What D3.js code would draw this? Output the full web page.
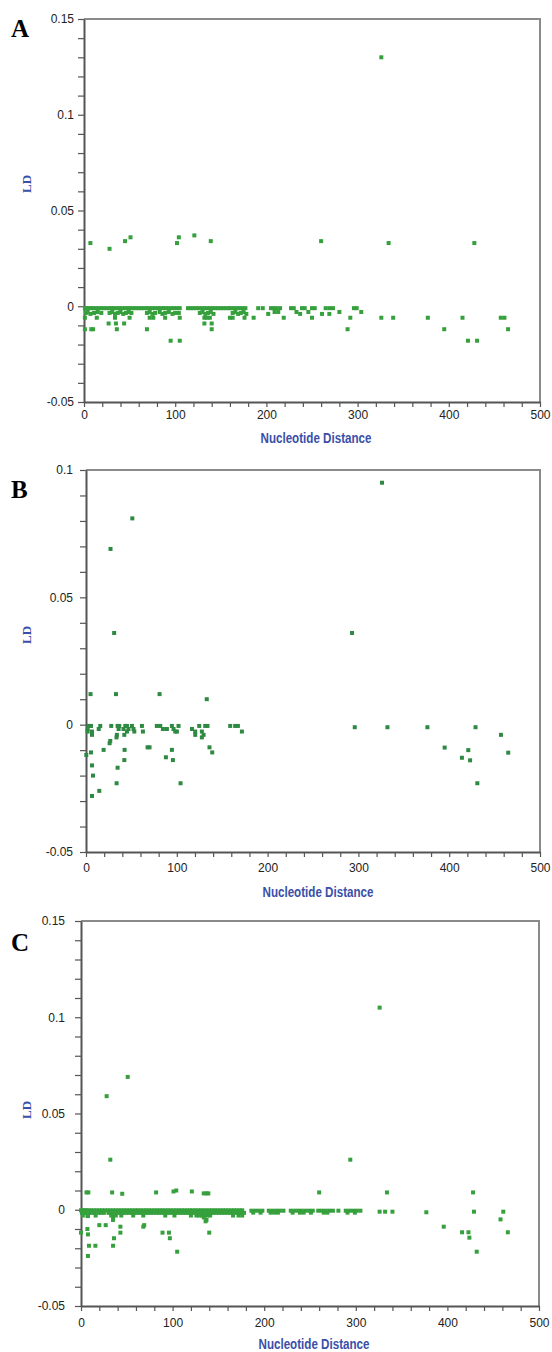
<!DOCTYPE html>
<html>
<head>
<meta charset="utf-8">
<script src="https://cdn.jsdelivr.net/npm/d3@7/dist/d3.min.js"></script>
<style>
  html, body { margin: 0; padding: 0; background: #fff; }
  svg { display: block; }
</style>
</head>
<body>
<svg id="chart" width="552" height="1352"></svg>
<script>
// ---------------- DATA ----------------
const panelLabels = ["A", "B", "C"];
const xTickValues = [0, 100, 200, 300, 400, 500];
const xTickLabels = ["0", "100", "200", "300", "400", "500"];
const yTicksA = [-0.05, 0, 0.05, 0.1, 0.15];
const yTickLabelsA = ["-0.05", "0", "0.05", "0.1", "0.15"];
const yTicksB = [-0.05, 0, 0.05, 0.1];
const yTickLabelsB = ["-0.05", "0", "0.05", "0.1"];
const yTicksC = [-0.05, 0, 0.05, 0.1, 0.15];
const yTickLabelsC = ["-0.05", "0", "0.05", "0.1", "0.15"];
const xAxisTitle = "Nucleotide Distance";
const yAxisTitle = "LD";

// Panel A: [nucleotide distance, LD]
const pointsA_high = [[7,0.033],[28,0.030],[45,0.034],[51,0.036],[102,0.033],[104,0.036],[121,0.037],[139,0.034],[260,0.034],[326,0.130],[334,0.033],[428,0.033]];
const pointsA_band0 = [[1,-0.001],[3,-0.001],[5,-0.001],[8,-0.001],[10,-0.001],[13,-0.001],[16,-0.001],[19,-0.001],[22,-0.001],[25,-0.001],[28,-0.001],[31,-0.001],[33,-0.001],[36,-0.001],[39,-0.001],[42,-0.001],[45,-0.001],[48,-0.001],[51,-0.001],[54,-0.001],[57,-0.001],[60,-0.001],[63,-0.001],[66,-0.001],[69,-0.001],[72,-0.001],[75,-0.001],[78,-0.001],[81,-0.001],[84,-0.001],[87,-0.001],[90,-0.001],[93,-0.001],[96,-0.001],[99,-0.001],[102,-0.001],[105,-0.001],[114,-0.001],[117,-0.001],[120,-0.001],[123,-0.001],[126,-0.001],[129,-0.001],[132,-0.001],[135,-0.001],[138,-0.001],[141,-0.001],[144,-0.001],[147,-0.001],[150,-0.001],[153,-0.001],[156,-0.001],[159,-0.001],[162,-0.001],[165,-0.001],[168,-0.001],[171,-0.001],[174,-0.001],[177,-0.001],[191,-0.001],[196,-0.001],[205,-0.001],[208,-0.001],[211,-0.001],[215,-0.001],[227,-0.001],[230,-0.001],[239,-0.001],[242,-0.001],[250,-0.001],[253,-0.001],[265,-0.001],[269,-0.001],[273,-0.001],[296,-0.001],[299,-0.001]];
const pointsA_band1 = [[2,-0.0035],[4,-0.003],[7,-0.004],[11,-0.0035],[15,-0.003],[19,-0.0035],[28,-0.0035],[31,-0.003],[34,-0.004],[37,-0.0035],[40,-0.003],[43,-0.004],[46,-0.0035],[49,-0.003],[52,-0.0035],[69,-0.0035],[72,-0.003],[75,-0.004],[78,-0.0035],[83,-0.003],[86,-0.004],[89,-0.0035],[93,-0.003],[97,-0.004],[100,-0.0035],[104,-0.0035],[127,-0.0035],[130,-0.003],[133,-0.004],[136,-0.0035],[139,-0.003],[142,-0.004],[163,-0.0035],[166,-0.003],[169,-0.004],[172,-0.0035],[175,-0.003],[178,-0.004],[202,-0.004],[209,-0.003],[213,-0.003],[233,-0.003],[237,-0.004],[246,-0.003],[261,-0.004],[269,-0.004],[280,-0.003],[304,-0.003]];
const pointsA_low = [[1,-0.006],[14,-0.006],[34,-0.006],[50,-0.006],[72,-0.006],[76,-0.006],[89,-0.006],[105,-0.006],[132,-0.006],[135,-0.006],[138,-0.006],[160,-0.006],[163,-0.006],[176,-0.006],[186,-0.006],[219,-0.006],[250,-0.006],[292,-0.006],[326,-0.006],[339,-0.006],[377,-0.006],[415,-0.006],[457,-0.006],[461,-0.006],[27,-0.009],[35,-0.009],[44,-0.009],[132,-0.009],[140,-0.009],[1,-0.012],[8,-0.012],[10,-0.012],[36,-0.012],[69,-0.012],[140,-0.012],[289,-0.012],[395,-0.012],[465,-0.012],[95,-0.018],[105,-0.018],[421,-0.018],[431,-0.018]];

// Panel B
const pointsB_high = [[51,0.081],[27,0.069],[31,0.036],[5,0.012],[33,0.012],[81,0.012],[133,0.010],[326,0.095],[293,0.036]];
const pointsB_band = [[3,-0.0005],[5.5,-0.0005],[15.7,-0.0005],[27.8,-0.0005],[34.8,-0.0005],[36.6,-0.0005],[43.3,-0.0005],[45.1,-0.0005],[50.6,-0.0005],[61.6,-0.0005],[78,-0.0005],[81.8,-0.0005],[94.6,-0.0005],[101.9,-0.0005],[124.7,-0.0005],[131.3,-0.0005],[133.8,-0.0005],[158.8,-0.0005],[164.3,-0.0005],[167.3,-0.0005],[1.8,-0.0017],[14,-0.0017],[35.9,-0.0017],[41.3,-0.0017],[46.8,-0.0017],[52.3,-0.0017],[84.7,-0.0017],[89.1,-0.0017],[96.4,-0.0017],[116.7,-0.0017],[1.8,-0.0027],[6.6,-0.0027],[45.1,-0.0027],[53.2,-0.0027],[62.7,-0.0027],[98.3,-0.0027],[100.1,-0.0027],[120.3,-0.0027],[127.6,-0.0027],[171.7,-0.0027],[6.6,-0.004],[34,-0.004],[42.2,-0.004],[120.3,-0.004],[129.5,-0.004],[33.6,-0.005],[127.6,-0.005]];
const pointsB_low = [[26.7,-0.0064],[26,-0.0073],[67.8,-0.0089],[70,-0.0089],[136,-0.0089],[19.4,-0.0099],[42.5,-0.0099],[94.6,-0.0099],[5.5,-0.0109],[139,-0.0109],[0.3,-0.0119],[88,-0.0128],[42.2,-0.0139],[95.7,-0.0139],[6.6,-0.016],[34.8,-0.0169],[7.7,-0.02],[33.7,-0.023],[104.1,-0.023],[14.6,-0.026],[6.6,-0.028],[296,-0.001],[332,-0.001],[376,-0.001],[429,-0.001],[457,-0.004],[395,-0.009],[421,-0.010],[414,-0.013],[423,-0.014],[465,-0.011],[431,-0.023]];

// Panel C
const pointsC_high = [[51,0.069],[28,0.059],[32,0.026],[326,0.105],[294,0.026],[6,0.009],[8,0.009],[34,0.009],[45,0.0083],[82,0.009],[101,0.0095],[104,0.010],[121,0.0095],[134,0.0085],[137,0.0085],[139,0.0085],[260,0.009],[334,0.009],[428,0.009]];
const pointsC_band0 = [[0,-0.0003],[2,-0.0003],[4,-0.0003],[6,-0.0003],[8,-0.0003],[11,-0.0003],[14,-0.0003],[17,-0.0003],[20,-0.0003],[23,-0.0003],[26,-0.0003],[29,-0.0003],[32,-0.0003],[35,-0.0003],[38,-0.0003],[41,-0.0003],[44,-0.0003],[47,-0.0003],[50,-0.0003],[53,-0.0003],[56,-0.0003],[59,-0.0003],[62,-0.0003],[65,-0.0003],[68,-0.0003],[71,-0.0003],[74,-0.0003],[77,-0.0003],[80,-0.0003],[83,-0.0003],[86,-0.0003],[89,-0.0003],[92,-0.0003],[95,-0.0003],[98,-0.0003],[101,-0.0003],[104,-0.0003],[107,-0.0003],[110,-0.0003],[113,-0.0003],[116,-0.0003],[119,-0.0003],[122,-0.0003],[125,-0.0003],[128,-0.0003],[131,-0.0003],[134,-0.0003],[137,-0.0003],[140,-0.0003],[143,-0.0003],[146,-0.0003],[149,-0.0003],[152,-0.0003],[155,-0.0003],[158,-0.0003],[161,-0.0003],[164,-0.0003],[167,-0.0003],[170,-0.0003],[173,-0.0003],[176,-0.0003],[186,-0.0005],[190,-0.0005],[194,-0.0005],[198,-0.0005],[205,-0.0005],[209,-0.0005],[213,-0.0005],[217,-0.0005],[221,-0.0005],[229,-0.0005],[233,-0.0005],[237,-0.0005],[241,-0.0005],[245,-0.0005],[249,-0.0005],[253,-0.0005],[259,-0.0005],[263,-0.0005],[267,-0.0005],[271,-0.0005],[275,-0.0005],[281,-0.0005],[289,-0.0005],[293,-0.0005],[297,-0.0005],[301,-0.0005],[305,-0.0005]];
const pointsC_band1 = [[1,-0.0016],[3,-0.0016],[5,-0.0016],[9,-0.0016],[12,-0.0016],[15,-0.0016],[19,-0.0016],[22,-0.0016],[25,-0.0016],[30,-0.0016],[33,-0.0016],[37,-0.0016],[40,-0.0016],[43,-0.0016],[46,-0.0016],[49,-0.0016],[52,-0.0016],[55,-0.0016],[58,-0.0016],[61,-0.0016],[64,-0.0016],[67,-0.0016],[70,-0.0016],[73,-0.0016],[76,-0.0016],[79,-0.0016],[82,-0.0016],[85,-0.0016],[88,-0.0016],[91,-0.0016],[94,-0.0016],[97,-0.0016],[100,-0.0016],[103,-0.0016],[106,-0.0016],[109,-0.0016],[112,-0.0016],[115,-0.0016],[118,-0.0016],[121,-0.0016],[124,-0.0016],[127,-0.0016],[130,-0.0016],[133,-0.0016],[136,-0.0016],[139,-0.0016],[142,-0.0016],[145,-0.0016],[148,-0.0016],[151,-0.0016],[154,-0.0016],[157,-0.0016],[160,-0.0016],[163,-0.0016],[166,-0.0016],[169,-0.0016],[172,-0.0016],[175,-0.0016],[178,-0.0016],[188,-0.0015],[196,-0.0015],[207,-0.0015],[211,-0.0015],[215,-0.0015],[231,-0.0015],[239,-0.0015],[243,-0.0015],[251,-0.0015],[265,-0.0015],[269,-0.0015],[291,-0.0015],[299,-0.0015],[2,-0.003],[7,-0.003],[16,-0.003],[33,-0.003],[38,-0.003],[44,-0.003],[57,-0.003],[68,-0.003],[92,-0.003],[102,-0.003],[120,-0.003],[126,-0.003],[129,-0.003],[132,-0.003],[135,-0.003],[138,-0.003],[141,-0.003],[166,-0.003],[172,-0.003],[176,-0.003]];
const pointsC_low = [[7.6,-0.0033],[35,-0.0033],[134,-0.004],[35,-0.0053],[137,-0.0053],[136,-0.006],[20,-0.008],[27,-0.008],[69,-0.008],[68,-0.0088],[43,-0.0088],[7,-0.010],[0,-0.0119],[89,-0.0119],[96,-0.0119],[140,-0.0119],[43,-0.0119],[7.6,-0.0128],[36,-0.0148],[97,-0.0148],[8.7,-0.0187],[15.7,-0.0187],[35,-0.0187],[105,-0.0218],[7.6,-0.024],[326,-0.001],[332,-0.001],[340,-0.001],[377,-0.0013],[429,-0.001],[461,-0.001],[396,-0.0088],[416,-0.0117],[423,-0.0117],[424,-0.0145],[432,-0.0218],[458,-0.005],[466,-0.0117]];

// ---------------- LAYOUT ----------------
const panels = [
  { letter: panelLabels[0], left: 84, right: 540, top: 19, bottom: 402, yMax: 0.15,
    yTicks: yTicksA, yLabels: yTickLabelsA, yPad: 4, xLabelY: 17, titleY: 443, titleX: 316,
    ldX: 26, ldY: 184, letterY: 37, color: "#36a03d",
    points: [pointsA_high, pointsA_band0, pointsA_band1, pointsA_low] },
  { letter: panelLabels[1], left: 86, right: 540, top: 470, bottom: 852, yMax: 0.1,
    yTicks: yTicksB, yLabels: yTickLabelsB, yPad: 7, xLabelY: 19.5, titleY: 897, titleX: 318,
    ldX: 26, ldY: 635, letterY: 498, color: "#2e8a42",
    points: [pointsB_high, pointsB_band, pointsB_low] },
  { letter: panelLabels[2], left: 81, right: 539, top: 921, bottom: 1306, yMax: 0.15,
    yTicks: yTicksC, yLabels: yTickLabelsC, yPad: 10, xLabelY: 20.5, titleY: 1348.5, titleX: 314,
    ldX: 26, ldY: 1110, letterY: 951, color: "#36a03d",
    points: [pointsC_high, pointsC_band0, pointsC_band1, pointsC_low] }
];

const svg = d3.select("#chart");
const tickFont = "'Liberation Sans', Arial, sans-serif";

panels.forEach(p => {
  const x = d3.scaleLinear().domain([0, 500]).range([p.left, p.right]);
  const y = d3.scaleLinear().domain([-0.05, p.yMax]).range([p.bottom, p.top]);
  const g = svg.append("g");

  // panel letter
  g.append("text").attr("x", 11).attr("y", p.letterY)
    .attr("font-family", "'Liberation Serif', 'Times New Roman', serif")
    .attr("font-weight", "bold").attr("font-size", 25).attr("fill", "#000")
    .text(p.letter);

  // frame (top/right)
  g.append("path")
    .attr("d", `M${p.left},${p.top}H${p.right}V${p.bottom}`)
    .attr("fill", "none").attr("stroke", "#8a8a8a").attr("stroke-width", 2);

  // y axis with minor ticks every 0.01
  const nTop = Math.round(p.yMax * 100);
  const yMinor = d3.range(-5, nTop + 1).map(i => i / 100);
  const yAx = g.append("g").attr("transform", `translate(${p.left},0)`)
    .call(d3.axisLeft(y).tickValues(yMinor).tickSize(6).tickSizeOuter(0).tickPadding(p.yPad)
      .tickFormat(v => {
        const k = p.yTicks.findIndex(t => Math.abs(t - v) < 1e-9);
        return k >= 0 ? p.yLabels[k] : "";
      }));
  yAx.select(".domain").attr("stroke", "#555").attr("stroke-width", 2);
  yAx.selectAll(".tick line").attr("stroke", "#555").attr("stroke-width", 1.2);
  yAx.selectAll(".tick text").attr("font-family", tickFont).attr("font-size", 12).attr("fill", "#222");

  // x axis with minor ticks every 20
  const xMinor = d3.range(0, 26).map(i => i * 20);
  const xAx = g.append("g").attr("transform", `translate(0,${p.bottom})`)
    .call(d3.axisBottom(x).tickValues(xMinor).tickSize(5).tickSizeOuter(0)
      .tickFormat(v => {
        const k = xTickValues.indexOf(v);
        return k >= 0 ? xTickLabels[k] : "";
      }));
  xAx.select(".domain").attr("stroke", "#555").attr("stroke-width", 2);
  xAx.selectAll(".tick line").attr("stroke", "#555").attr("stroke-width", 1.2);
  xAx.selectAll(".tick text").attr("font-family", tickFont).attr("font-size", 12).attr("fill", "#222")
    .attr("y", p.xLabelY).attr("dy", null);

  // axis titles
  g.append("text").attr("x", p.titleX).attr("y", p.titleY).attr("text-anchor", "middle")
    .attr("font-family", "'Liberation Sans', Arial, sans-serif")
    .attr("font-weight", "bold").attr("font-size", 14.5).attr("fill", "#3a4fa8")
    .attr("textLength", 111).attr("lengthAdjust", "spacingAndGlyphs")
    .text(xAxisTitle);
  g.append("text").attr("transform", `translate(${p.ldX},${p.ldY}) rotate(-90)`)
    .attr("text-anchor", "middle").attr("dy", "0.35em")
    .attr("font-family", "'Liberation Serif', 'Times New Roman', serif")
    .attr("font-weight", "bold").attr("font-size", 13).attr("fill", "#3a4fa8")
    .text(yAxisTitle);

  // points
  const all = p.points.flat();
  const s = 4;
  g.append("g").selectAll("rect").data(all).join("rect")
    .attr("x", d => x(d[0]) - s / 2).attr("y", d => y(d[1]) - s / 2)
    .attr("width", s).attr("height", s).attr("fill", p.color);
});
</script>
</body>
</html>
